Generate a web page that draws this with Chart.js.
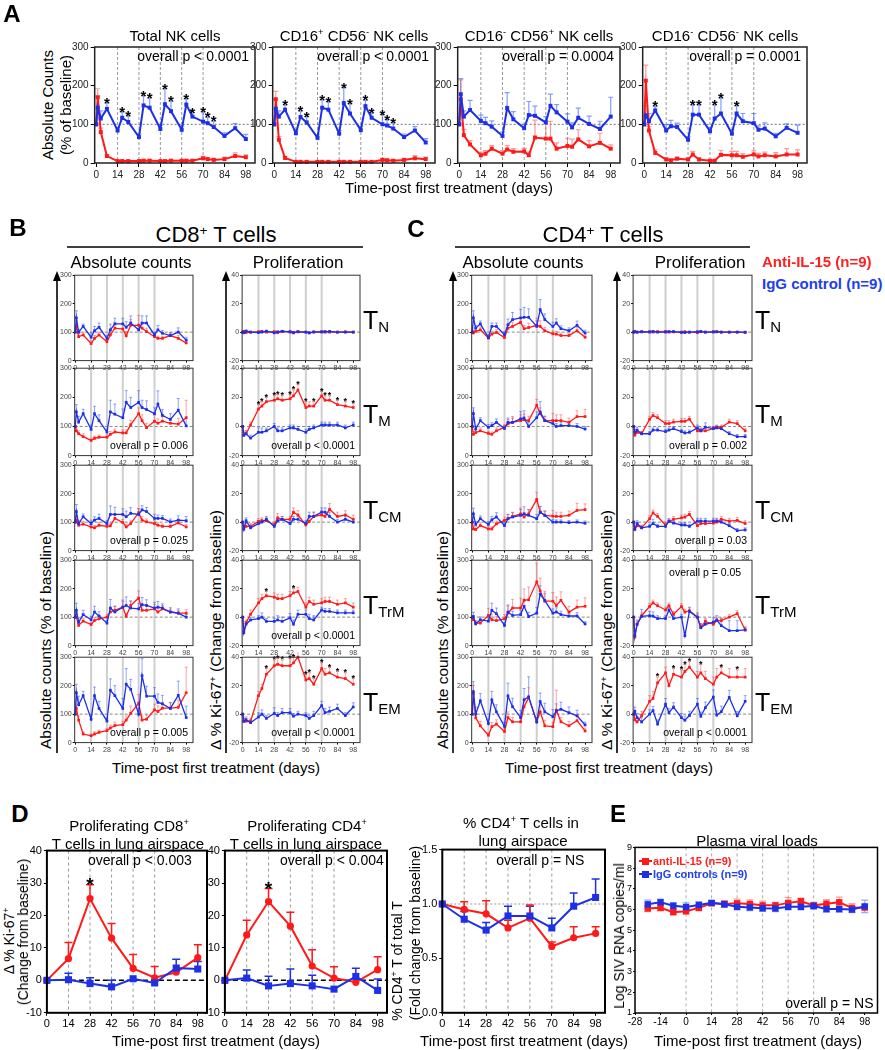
<!DOCTYPE html>
<html><head><meta charset="utf-8">
<script src="https://cdn.jsdelivr.net/npm/chart.js@4.4.1/dist/chart.umd.min.js"></script>
<style>
html,body{margin:0;padding:0;background:#fff;}
#root{position:relative;width:885px;height:1050px;overflow:hidden;background:#fff;font-family:'Liberation Sans',Arial,Helvetica,sans-serif;color:#000;}
.t{position:absolute;white-space:nowrap;line-height:1;transform:translate(-50%,-50%);}
.tl{position:absolute;white-space:nowrap;line-height:1;transform:translate(0,-50%);}
.sup{font-size:0.62em;vertical-align:0.55em;line-height:0;}
.sub{font-size:0.6em;vertical-align:-0.25em;line-height:0;}
svg{position:absolute;left:0;top:0;}
</style></head>
<body><div id="root"><svg id="lines" width="885" height="1050"></svg></div>
<script>
// ---------------- DATA ----------------
const NK_DAYS = [0,1,3,7,14,17,21,28,31,35,42,45,49,56,59,63,70,73,77,84,91,98];
const T_DAYS  = [0,1,3,7,14,17,21,28,31,35,42,45,49,56,59,63,70,73,77,84,91,98];
const D_DAYS  = [0,14,28,42,56,70,84,98];
const E_DAYS  = [-21,-14,-7,0,7,14,21,28,35,42,49,56,63,70,77,84,91,98];

const TICK_DAYS   = [0,14,28,42,56,70,84,98];
const E_TICK_DAYS = [-28,-14,0,14,28,42,56,70,84,98];
const TREAT_DAYS  = [14,28,42,56,70];
const E_TREAT_DAYS= [0,14,28,42,56,70];
const COUNT_TICKS = [0,100,200,300];
const KI67_TICKS  = [-20,0,20,40];
const D_KI67_TICKS= [-10,0,10,20,30,40];
const D_FOLD_TICKS= [0,0.5,1,1.5];
const E_LOG_TICKS = [1,2,3,4,5,6,7,8,9];

// Panel A (NK cells, % of baseline)
const A1_RED = [100,170,80,18,5,5,5,5,6,6,5,5,6,6,6,6,12,10,8,10,18,15];
const A1_RED_ERR = [0,22,10,4,2,2,2,2,3,3,2,2,3,3,3,3,5,4,4,5,8,6];
const A1_BLUE = [100,143,115,140,84,117,106,67,149,143,88,152,134,86,151,120,107,103,93,70,90,62];
const A1_BLUE_ERR = [0,30,20,15,8,15,15,8,25,25,10,40,25,10,15,10,25,15,15,8,12,12];
const A1_STARS = [3,5,6,8,9,11,12,14,15,16,17,18];

const A2_RED = [100,165,60,13,3,3,3,3,3,3,3,3,3,3,3,3,8,7,6,8,12,10];
const A2_RED_ERR = [0,20,8,4,2,2,2,2,2,2,2,2,2,2,2,2,4,3,3,4,7,5];
const A2_BLUE = [100,140,120,138,77,119,105,65,143,138,76,155,128,85,147,117,100,97,89,67,84,53];
const A2_BLUE_ERR = [0,25,15,12,8,15,15,8,20,20,8,40,25,10,15,12,25,15,15,8,10,10];
const A2_STARS = [3,5,6,8,9,11,12,14,15,16,17,18];

const A3_RED = [100,165,72,48,20,24,37,24,35,29,30,20,66,63,63,37,44,42,61,43,52,37];
const A3_RED_ERR = [0,50,15,10,8,8,8,8,10,8,8,8,45,45,45,15,20,20,25,15,25,10];
const A3_BLUE = [100,178,120,137,109,103,94,70,142,113,90,124,122,105,148,131,107,92,117,101,88,120];
const A3_BLUE_ERR = [0,40,15,25,15,15,15,10,40,20,10,35,25,15,30,20,20,12,25,20,20,50];

const A4_RED = [100,213,84,26,9,7,11,9,22,9,6,6,21,20,20,16,22,17,20,17,22,22];
const A4_RED_ERR = [0,40,10,8,4,3,4,4,8,4,3,3,12,10,10,8,10,8,8,10,15,12];
const A4_BLUE = [100,123,108,136,84,95,93,60,125,125,82,115,128,76,128,108,103,86,89,69,91,78];
const A4_BLUE_ERR = [0,25,20,10,15,15,10,8,25,25,10,35,40,10,20,20,25,10,15,8,10,20];
const A4_STARS = [3,8,9,11,12,14];

// Panel B (CD8+), absolute counts (AC) and proliferation (PR)
const B_TN_AC_RED = [100,120,84,90,60,78,90,66,90,114,111,87,124,124,114,102,84,78,78,88,78,62];
const B_TN_AC_RED_ERR = [0,20,10,10,10,10,10,8,15,20,15,15,20,35,15,12,10,8,8,8,10,8];
const B_TN_AC_BLUE = [100,150,100,120,82,105,117,78,108,129,129,117,132,108,132,132,90,108,96,88,100,72];
const B_TN_AC_BLUE_ERR = [0,25,10,8,15,15,15,10,20,20,20,20,25,20,25,25,10,15,10,10,15,10];
const B_TM_AC_RED = [100,85,75,65,52,59,63,63,73,81,78,78,106,144,120,96,118,111,118,111,108,130];
const B_TM_AC_RED_ERR = [0,15,10,10,8,8,8,8,10,10,10,10,15,20,20,15,20,15,15,15,20,60];
const B_TM_AC_BLUE = [100,150,115,144,90,144,120,81,150,142,130,183,165,183,165,158,144,177,138,124,156,102];
const B_TM_AC_BLUE_ERR = [0,25,20,15,15,25,20,10,40,35,30,40,35,40,25,30,20,45,20,20,40,30];
const B_TCM_AC_RED = [100,107,89,93,83,80,89,85,87,113,99,83,95,133,107,101,95,89,85,85,97,83];
const B_TCM_AC_RED_ERR = [0,15,10,10,8,8,10,8,10,15,10,10,10,15,12,10,10,8,8,8,10,8];
const B_TCM_AC_BLUE = [100,137,95,119,95,107,113,95,127,127,127,119,131,127,143,137,113,113,113,101,107,105];
const B_TCM_AC_BLUE_ERR = [0,25,10,10,12,12,15,10,30,25,20,20,20,20,15,15,15,12,10,10,15,15];
const B_TTRM_AC_RED = [100,100,71,86,74,88,94,100,118,124,135,103,141,167,124,124,129,118,129,118,114,114];
const B_TTRM_AC_RED_ERR = [0,15,8,10,8,10,10,10,15,15,20,10,15,25,15,15,15,12,12,10,10,12];
const B_TTRM_AC_BLUE = [100,124,82,109,91,118,104,79,132,118,135,141,132,129,144,141,132,135,132,118,114,100];
const B_TTRM_AC_BLUE_ERR = [0,25,15,15,12,20,15,10,30,20,25,30,25,20,25,20,20,20,15,15,15,10];
const B_TEM_AC_RED = [100,120,79,30,24,30,36,42,51,60,63,79,103,139,79,82,115,109,121,121,124,175];
const B_TEM_AC_RED_ERR = [0,30,15,8,6,8,8,8,10,12,12,15,25,30,15,15,20,20,20,20,25,90];
const B_TEM_AC_BLUE = [100,175,133,165,82,165,120,76,184,165,120,205,187,100,235,163,163,141,136,120,166,88];
const B_TEM_AC_BLUE_ERR = [0,30,30,15,15,30,25,10,40,35,35,55,35,20,60,35,30,30,30,20,50,40];

const B_TN_PR_RED = [0,0.5,-0.3,0,0.3,0.5,0,0.3,-0.4,0.6,0,-0.6,0.4,0,-0.5,0.2,0,0.5,0,0,0.2,0];
const B_TN_PR_RED_ERR = [0,0.6,0.4,0.4,0.4,0.5,0.4,0.4,0.5,0.6,0.4,0.5,0.5,0.4,0.5,0.4,0.4,0.5,0.4,0.4,0.4,0.4];
const B_TN_PR_BLUE = [0,-0.5,0.8,0,-0.3,0,0.7,-0.5,0.2,0.5,0.3,-0.2,0.2,0,-0.5,0,0.3,0,0.5,0,0,0];
const B_TN_PR_BLUE_ERR = [0,0.5,0.5,0.4,0.4,0.4,0.5,0.4,0.4,0.5,0.4,0.4,0.4,0.4,0.4,0.4,0.4,0.4,0.5,0.4,0.4,0.4];
const B_TM_PR_RED = [0,-6,-5,1,12,14,17,18,19,18,19,21,25,13,14,14,21,18,18,15,14,13];
const B_TM_PR_RED_ERR = [0,2,2,2,3,3,3,3,3,3,3,4,4,4,3,3,3,3,3,3,3,3];
const B_TM_PR_BLUE = [0,-6,-5,-8,-4,-4,-3,0,-3,-3,-1,-1,-2,-4,-2,-1,1,1,1,1,-1,1];
const B_TM_PR_BLUE_ERR = [0,2,2,2,3,3,2,2,2,2,2,2,2,2,2,2,2,2,2,2,2,2];
const B_TM_PR_STARS = [4,5,6,7,8,9,10,11,12,13,15,16,17,18,19,20,21];
const B_TCM_PR_RED = [0,-4,-3,-3,0.5,1,1,-2,3,2,2,7,5,-2,0.5,4,5,4,9,4,5,2];
const B_TCM_PR_RED_ERR = [0,2,2,2,2,2,2,2,3,2,2,3,3,2,2,3,3,3,4,3,3,3];
const B_TCM_PR_BLUE = [0,-5,1,-4,-1,0,2,-3,1,2,-1,2,2,-1,4,4,7,7,4,0,2,0];
const B_TCM_PR_BLUE_ERR = [0,2,2,2,2,2,2,2,2,2,2,2,2,2,3,3,3,3,3,2,2,2];
const B_TTRM_PR_RED = [0,-10,-4,2,10,13,15,14,13,13,15,17,18,7,11,9,10,11,11,9,10,7];
const B_TTRM_PR_RED_ERR = [0,2,2,3,3,3,3,3,3,3,3,3,3,3,3,3,3,3,3,3,3,3];
const B_TTRM_PR_BLUE = [0,-11,-5,-2,-1,0,-3,-3,-2,-3,-0.5,-5,2,2,-1,-2,5,4,4,3,3,3];
const B_TTRM_PR_BLUE_ERR = [0,2,2,2,2,3,2,2,3,3,3,3,3,3,3,3,2,2,2,2,2,2];
const B_TTRM_PR_STARS = [6,11];
const B_TEM_PR_RED = [0,-5,-5,-5,13,18,28,34,35,34,34,36,40,24,25,21,32,28,29,26,25,21];
const B_TEM_PR_RED_ERR = [0,2,2,2,3,3,4,4,4,4,5,4,4,4,4,4,4,4,4,4,4,4];
const B_TEM_PR_BLUE = [0,-5,-4,-6,-2,0,-3,0.5,-1,1,1,-1.5,0,-1,-3,-1,6,1,2,4,-1,5];
const B_TEM_PR_BLUE_ERR = [0,2,2,2,3,3,2,4,2,3,3,2,2,2,2,3,3,3,3,3,2,3];
const B_TEM_PR_STARS = [6,7,8,9,10,11,12,13,14,15,16,18,19,20,21];

// Panel C (CD4+)
const C_TN_AC_RED = [100,97,103,108,79,93,99,81,114,120,135,112,116,124,120,105,94,93,88,88,105,82];
const C_TN_AC_RED_ERR = [0,10,10,10,8,10,10,8,12,15,15,12,15,25,20,12,10,10,8,8,12,8];
const C_TN_AC_BLUE = [100,150,114,129,81,120,120,91,126,144,150,152,152,120,179,144,120,132,112,105,124,97];
const C_TN_AC_BLUE_ERR = [0,25,10,10,10,12,12,10,20,25,30,35,30,20,35,20,15,15,10,10,15,10];
const C_TM_AC_RED = [100,73,79,85,76,73,85,97,109,114,120,123,120,173,144,120,120,120,120,114,134,134];
const C_TM_AC_RED_ERR = [0,10,10,10,8,8,10,10,15,20,20,20,15,20,20,15,25,20,20,15,20,25];
const C_TM_AC_BLUE = [100,144,91,120,97,103,114,93,114,114,126,129,100,130,150,120,110,100,103,103,100,91];
const C_TM_AC_BLUE_ERR = [0,20,10,10,10,10,12,10,15,15,25,25,15,20,35,15,12,10,10,10,10,8];
const C_TCM_AC_RED = [100,76,74,88,76,76,94,106,112,120,129,118,129,180,135,124,121,120,120,124,141,144];
const C_TCM_AC_RED_ERR = [0,10,10,10,8,8,10,12,15,15,20,15,15,25,20,15,20,15,15,15,25,20];
const C_TCM_AC_BLUE = [100,129,92,112,92,108,118,88,112,118,124,129,124,112,135,124,100,100,100,98,100,96];
const C_TCM_AC_BLUE_ERR = [0,20,10,10,10,12,15,10,15,15,20,25,20,15,20,15,10,8,8,8,8,8];
const C_TTRM_AC_RED = [100,91,79,79,106,91,88,94,114,132,132,159,161,224,192,156,156,141,159,118,135,138];
const C_TTRM_AC_RED_ERR = [0,15,10,10,25,20,15,15,25,30,35,40,45,65,45,35,30,30,30,20,25,30];
const C_TTRM_AC_BLUE = [100,102,76,91,86,124,112,71,118,106,109,138,102,114,180,159,114,118,109,104,104,76];
const C_TTRM_AC_BLUE_ERR = [0,15,10,10,12,25,20,10,25,15,15,25,15,20,30,25,15,15,12,10,12,8];
const C_TEM_AC_RED = [100,171,87,59,26,56,65,39,88,73,73,126,158,73,108,59,56,114,73,59,77,41];
const C_TEM_AC_RED_ERR = [0,30,20,15,8,15,15,10,20,15,15,30,35,15,25,20,15,70,15,15,20,10];
const C_TEM_AC_BLUE = [100,179,100,147,67,150,108,57,164,126,88,150,161,73,144,108,91,111,117,105,94,62];
const C_TEM_AC_BLUE_ERR = [0,35,25,25,15,30,25,15,45,30,25,40,70,15,30,30,25,25,25,20,20,10];

const C_TN_PR_RED = [0,0.3,0,0.3,0.4,0,0.3,0.5,0,0.2,-0.3,0.3,0,-0.4,0.3,0,0.4,0.2,0,0,0,-0.3];
const C_TN_PR_RED_ERR = [0,0.4,0.3,0.4,0.4,0.3,0.4,0.4,0.3,0.4,0.3,0.4,0.3,0.3,0.4,0.3,0.4,0.4,0.3,0.3,0.3,0.3];
const C_TN_PR_BLUE = [0,0.4,0,0.2,0,0.5,0,0,0.4,0.3,0,-0.3,0,0.3,0.4,0,0,0.3,0,0,0,0];
const C_TN_PR_BLUE_ERR = [0,0.4,0.3,0.3,0.3,0.4,0.3,0.3,0.4,0.3,0.3,0.3,0.3,0.3,0.4,0.3,0.3,0.3,0.3,0.3,0.3,0.3];
const C_TM_PR_RED = [0,-6,-4,-5,5,7.5,6,2,2,3,3.5,3.5,5,-3,-3,-3,-1.5,-0.5,-0.5,3,2,-3];
const C_TM_PR_RED_ERR = [0,1.5,1.5,1.5,2,2,2,2,2,2,2,2,2,1.5,1.5,1.5,1.5,1.5,1.5,2,2,1.5];
const C_TM_PR_BLUE = [0,-4,-2.5,-5,-5,-2.5,-2.5,-3.5,-2.5,-1.5,-3.5,-4.5,-4,-1,-3,-0.5,-1.5,-1,-1.5,-5,-7,-7];
const C_TM_PR_BLUE_ERR = [0,2,2,1.5,1.5,1.5,1.5,1.5,1.5,1.5,1.5,1.5,1.5,2,2,3,1.5,1.5,1.5,1.5,1.5,1.5];
const C_TCM_PR_RED = [0,-5,-2.5,-4,2.5,6.5,4,-2,0.5,2,3,3.5,5.5,-2.5,-1,-1,-0.7,0,2,0.7,1.2,-1];
const C_TCM_PR_RED_ERR = [0,2,2,2,2,2,2,2,2,2,2,2,2,2,2,2,2,2,2,2,2,2];
const C_TCM_PR_BLUE = [0,-5,-1,-4,-3,-1,-3,-3,0.7,-0.7,-2,-2,-3,0.7,0.7,0.7,0.7,0.7,0,-2.5,-6,-5.5];
const C_TCM_PR_BLUE_ERR = [0,2,2,1.5,1.5,3,1.5,1.5,1.5,1.5,1.5,1.5,1.5,2,2,2,2,2,1.5,1.5,1.5,1.5];
const C_TTRM_PR_RED = [0,-14,-5,1,7.5,10,8,5,8,2,7.5,3.5,4.5,0,-7,-3,-5,-2.5,-2.5,0,2.5,-9];
const C_TTRM_PR_RED_ERR = [0,2,2,2,2,2,2,2,2,2,2,2,2,2,2,2,2,2,2,2,2,2];
const C_TTRM_PR_BLUE = [0,-13,-5,0.5,1,0.7,-1,-1,5,-1,0,-13,4,0,-7.5,-5,-3.5,-2,-6,-9.5,-9.5,-9];
const C_TTRM_PR_BLUE_ERR = [0,3,3,5,3,3,2,2,3,2,2,2,3,3,3,3,3,3,5,7,7,2];
const C_TEM_PR_RED = [0,-4,-5.5,-1,9,11,22,29,20,28,26,30,33,26,29,25,21,26,29,26,26,26];
const C_TEM_PR_RED_ERR = [0,3,3,3,4,5,4,4,4,4,5,5,4,4,6,5,5,6,4,6,5,6];
const C_TEM_PR_BLUE = [0,2,-2.5,-5.5,0,2.5,-7,7,1,5,-2.5,-4.3,-1,7,-1.5,4.5,12,-0.7,1.7,11.7,-1.2,9];
const C_TEM_PR_BLUE_ERR = [0,3,3,3,3,3,3,4,3,3,3,3,3,4,3,4,5,3,4,5,3,4];
const C_TEM_PR_STARS = [6,9,10,11,12,14,18,20];

// Panel D (lung airspace)
const D1_RED = [0,6.7,25.2,13,3.7,0.8,2.5,7];
const D1_RED_ERR = [0,5,4.3,4.5,4.3,3.5,0,4];
const D1_BLUE = [0,0.2,-1,-2,0.5,-0.8,3.8,3.5];
const D1_BLUE_ERR = [0,2,1.8,2,0,0,2.7,2.3];
const D1_STARS = [2];
const D2_RED = [0,14,24.3,16.7,4.4,0.7,-0.6,3.3];
const D2_RED_ERR = [0,4.5,4,4.3,5,3.5,0,4];
const D2_BLUE = [0,0.7,-1.7,-1,-1.7,-2.7,1.2,-3.1];
const D2_BLUE_ERR = [0,2.5,3,4.5,3.3,0,2.5,3.5];
const D2_STARS = [2];
const D3_RED = [1,0.95,0.91,0.78,0.87,0.61,0.69,0.73];
const D3_RED_ERR = [0,0.07,0.12,0.07,0.12,0.04,0.1,0.06];
const D3_BLUE = [1,0.86,0.76,0.89,0.89,0.78,0.98,1.06];
const D3_BLUE_ERR = [0,0.07,0.07,0.09,0.09,0.09,0.12,0.17];

// Panel E (plasma viral loads)
const E_RED = [6.05,6.08,5.87,5.92,6.08,6.3,6.27,6.3,6.27,6.2,6.2,6.32,6.4,6.2,6.28,6.35,6.08,6.1];
const E_RED_ERR = [0.15,0.15,0.12,0.15,0.15,0.1,0.15,0.2,0.2,0.2,0.15,0.25,0.15,0.15,0.2,0.25,0.2,0.15];
const E_BLUE = [6.25,6.35,6.18,6.12,6.22,6.32,6.25,6.13,6.1,6.06,6.05,6.13,6.13,6.17,6.02,6.02,6.0,6.15];
const E_BLUE_ERR = [0.2,0.15,0.15,0.2,0.15,0.1,0.15,0.15,0.15,0.15,0.15,0.15,0.15,0.15,0.15,0.15,0.15,0.3];

// ---------------- RENDERING ----------------
const FONT = "'Liberation Sans', Arial, Helvetica, sans-serif";
Chart.defaults.font.family = FONT;
Chart.defaults.color = '#000';
const RED = '#ff1a1a', BLUE = '#1e30e6';
const ERR_R = 'rgba(255,70,70,0.55)', ERR_B = 'rgba(50,90,255,0.6)';

function strokeLine(ctx, x1, y1, x2, y2, s) {
  ctx.save(); ctx.strokeStyle = s.c; ctx.lineWidth = s.w; ctx.setLineDash(s.d || []);
  ctx.beginPath(); ctx.moveTo(x1, y1); ctx.lineTo(x2, y2); ctx.stroke(); ctx.restore();
}

const deco = {
  id: 'deco',
  beforeDatasetsDraw(chart, args, o) {
    const { ctx, chartArea: a, scales: { x, y } } = chart;
    (o.vx || []).forEach(v => { const px = x.getPixelForValue(v); strokeLine(ctx, px, a.top, px, a.bottom, o.vs); });
    (o.hy || []).forEach(v => { const py = y.getPixelForValue(v); strokeLine(ctx, a.left, py, a.right, py, o.hs); });
    chart.data.datasets.forEach((ds, i) => {
      if (!ds.errUp) return;
      const meta = chart.getDatasetMeta(i);
      ctx.save(); ctx.strokeStyle = ds.errColor; ctx.lineWidth = o.ew; ctx.setLineDash([]);
      meta.data.forEach((pt, j) => {
        const v = ds.data[j].y, e = ds.errUp[j];
        if (!e) return;
        const y0 = y.getPixelForValue(v), y1 = y.getPixelForValue(v + e);
        ctx.beginPath();
        ctx.moveTo(pt.x, y0); ctx.lineTo(pt.x, y1);
        ctx.moveTo(pt.x - o.cap, y1); ctx.lineTo(pt.x + o.cap, y1);
        if (ds.errSym) {
          const y2 = y.getPixelForValue(v - e);
          ctx.moveTo(pt.x, y0); ctx.lineTo(pt.x, y2);
          ctx.moveTo(pt.x - o.cap, y2); ctx.lineTo(pt.x + o.cap, y2);
        }
        ctx.stroke();
      });
      ctx.restore();
    });
  },
  afterDatasetsDraw(chart, args, o) {
    const { ctx, scales: { y } } = chart;
    chart.data.datasets.forEach((ds, i) => {
      if (!ds.stars) return;
      const meta = chart.getDatasetMeta(i);
      const sz = o.starSize;
      ctx.save(); ctx.fillStyle = '#000'; ctx.font = 'bold ' + sz + 'px ' + FONT;
      ctx.textAlign = 'center'; ctx.textBaseline = 'alphabetic';
      ds.stars.forEach(j => {
        const v = ds.data[j].y + (ds.errUp ? ds.errUp[j] : 0);
        const py = y.getPixelForValue(v);
        ctx.fillText('*', meta.data[j].x, py - 1.5 + sz * 0.43);
      });
      ctx.restore();
    });
  },
  afterDraw(chart, args, o) {
    const { ctx, chartArea: a } = chart;
    ctx.save(); ctx.strokeStyle = o.fc; ctx.lineWidth = o.fw; ctx.setLineDash([]);
    ctx.strokeRect(a.left, a.top, a.right - a.left, a.bottom - a.top);
    ctx.restore();
    if (o.ptext) {
      const p = o.ptext;
      ctx.save(); ctx.fillStyle = '#000'; ctx.font = p.size + 'px ' + FONT;
      ctx.textAlign = p.align; ctx.textBaseline = 'middle';
      const px = p.ax === 'r' ? a.right + p.dx : a.left + p.dx;
      const py = p.ay === 't' ? a.top + p.dy : a.bottom + p.dy;
      ctx.fillText(p.t, px, py);
      ctx.restore();
    }
  }
};
Chart.register(deco);

const SA = {lw:2, pr:2.8, ew:1.2, cap:2.5, tf:10, tl:4, tp:2, fw:1.5, fc:'#222', star:15, tc:'#222'};
const SS = {lw:1.3, pr:1.9, ew:0.9, cap:1.5, tf:7, tl:2, tp:1, fw:1, fc:'#333', star:9, tc:'#444'};
const SD = {lw:2, pr:4, ew:1.5, cap:4, tf:11, tl:3, tp:2, fw:2, fc:'#000', star:19, tc:'#000'};
const SE = {lw:2, pr:4.5, ew:1.2, cap:3.5, tf:9, tfx:10, tl:2, tp:1, fw:1.5, fc:'#000', star:0, tc:'#000'};

function S(days, vals, errs, color, errColor, extra) { return Object.assign({days, vals, errs, color, errColor}, extra || {}); }

function build(o) {
  return () => ({
    type: 'line',
    data: { datasets: o.series.map(s => ({
      data: s.days.map((d, i) => ({x: d, y: s.vals[i]})),
      borderColor: s.color, backgroundColor: s.color,
      pointBackgroundColor: s.color, pointBorderColor: s.color, pointBorderWidth: 0,
      borderWidth: o.st.lw, pointRadius: s.pr != null ? s.pr : o.st.pr, pointStyle: s.ps || 'rect',
      errUp: s.errs, errSym: !!s.sym, errColor: s.errColor, stars: s.stars || null,
      clip: false, tension: 0, fill: false
    })) },
    options: {
      responsive: false, maintainAspectRatio: false, animation: false, events: [],
      layout: { padding: 2 },
      plugins: {
        legend: { display: false }, tooltip: { enabled: false },
        deco: { vx: o.vx, vs: o.vs, hy: o.hy, hs: o.hs, ew: o.st.ew, cap: o.st.cap,
                fw: o.st.fw, fc: o.st.fc, starSize: o.st.star, ptext: o.ptext || null }
      },
      scales: {
        x: { type: 'linear', min: o.xmin, max: o.xmax,
             afterBuildTicks: s => { s.ticks = o.xticks.map(v => ({value: v})); },
             ticks: { font: {size: o.st.tfx || o.st.tf}, color: o.st.tc, padding: o.st.tp,
                      maxRotation: 0, minRotation: 0, autoSkip: false, callback: v => String(v) },
             grid: { display: true, drawOnChartArea: false, drawTicks: true, tickLength: o.st.tl, tickColor: '#000', tickWidth: 1 },
             border: { display: false } },
        y: { type: 'linear', min: o.ymin, max: o.ymax,
             afterBuildTicks: s => { s.ticks = o.yticks.map(v => ({value: v})); },
             ticks: { font: {size: o.st.tf}, color: o.st.tc, padding: o.st.tp, autoSkip: false,
                      callback: o.yfmt || (v => String(v)) },
             grid: { display: true, drawOnChartArea: false, drawTicks: true, tickLength: o.st.tl, tickColor: '#000', tickWidth: 1 },
             border: { display: false } }
      }
    }
  });
}

const root = document.getElementById('root');
function setSize(cv, W, H) { cv.width = W; cv.height = H; cv.style.width = W + 'px'; cv.style.height = H + 'px'; }
function place(rect, factory) {
  const [l, t, r, b] = rect, w = r - l, h = b - t;
  const wrap = document.createElement('div'); wrap.style.position = 'absolute';
  root.appendChild(wrap);
  let cv = document.createElement('canvas'); wrap.appendChild(cv);
  let W = w + 100, H = h + 60; setSize(cv, W, H);
  let ch = new Chart(cv, factory());
  const a = ch.chartArea;
  const L = a.left, Tp = a.top, R = W - a.right, B = H - a.bottom;
  ch.destroy(); wrap.removeChild(cv);
  cv = document.createElement('canvas'); wrap.appendChild(cv);
  W = Math.round(w + L + R); H = Math.round(h + Tp + B); setSize(cv, W, H);
  ch = new Chart(cv, factory());
  const a2 = ch.chartArea;
  wrap.style.left = (l - a2.left) + 'px'; wrap.style.top = (t - a2.top) + 'px';
}

function T(html, x, y, size, opt) {
  opt = opt || {};
  const d = document.createElement('div');
  d.className = opt.left ? 'tl' : 't';
  d.innerHTML = html; d.style.left = x + 'px'; d.style.top = y + 'px'; d.style.fontSize = size + 'px';
  if (opt.rot) d.style.transform = 'translate(-50%,-50%) rotate(-90deg)';
  if (opt.bold) d.style.fontWeight = 'bold';
  if (opt.color) d.style.color = opt.color;
  root.appendChild(d);
}
const sup = s => '<span class="sup">' + s + '</span>';
const sub = s => '<span class="sub">' + s + '</span>';

// ---- decorative lines (arrows, underlines, E legend markers)
(function(){
  let s = '';
  const ln = (x1,y1,x2,y2,w,c) => s += `<line x1="${x1}" y1="${y1}" x2="${x2}" y2="${y2}" stroke="${c||'#000'}" stroke-width="${w}"/>`;
  const arrow = x => { ln(x, 279, x, 753, 1.6); s += `<polygon points="${x},271 ${x-4},281 ${x+4},281" fill="#000"/>`; };
  ln(67, 247, 363, 247, 1.5); ln(455, 247, 750, 247, 1.5);
  arrow(57); arrow(226); arrow(453); arrow(617);
  ln(639, 861, 652, 861, 2, RED); s += `<rect x="642" y="858" width="7" height="7" fill="${RED}"/>`;
  ln(639, 874, 652, 874, 2, BLUE); s += `<rect x="642" y="871" width="7" height="7" fill="${BLUE}"/>`;
  document.getElementById('lines').innerHTML = s;
})();

// ---- Panel A
const A_VS = {c:'#999', w:1, d:[3,2]}, A_HS = {c:'#777', w:1, d:[2,2]};
const A_DEF = [
  {r:[95,47,255,163], red:A1_RED, re:A1_RED_ERR, blue:A1_BLUE, be:A1_BLUE_ERR, st:A1_STARS, p:'overall p < 0.0001', title:'Total NK cells'},
  {r:[273,47,435,163], red:A2_RED, re:A2_RED_ERR, blue:A2_BLUE, be:A2_BLUE_ERR, st:A2_STARS, p:'overall p < 0.0001', title:'CD16'+sup('+')+' CD56'+sup('-')+' NK cells'},
  {r:[458,47,620,163], red:A3_RED, re:A3_RED_ERR, blue:A3_BLUE, be:A3_BLUE_ERR, st:null, p:'overall p = 0.0004', title:'CD16'+sup('-')+' CD56'+sup('+')+' NK cells'},
  {r:[643,47,807,163], red:A4_RED, re:A4_RED_ERR, blue:A4_BLUE, be:A4_BLUE_ERR, st:A4_STARS, p:'overall p = 0.0001', title:'CD16'+sup('-')+' CD56'+sup('-')+' NK cells'}
];
A_DEF.forEach(c => {
  place(c.r, build({st:SA, xmin:-1, xmax:104, xticks:TICK_DAYS, ymin:0, ymax:300, yticks:COUNT_TICKS,
    series:[S(NK_DAYS, c.blue, c.be, BLUE, ERR_B, {stars:c.st}), S(NK_DAYS, c.red, c.re, RED, ERR_R)],
    vx:TREAT_DAYS, vs:A_VS, hy:[100], hs:A_HS,
    ptext:{t:c.p, ax:'r', dx:-6, ay:'t', dy:10, size:14, align:'right'}}));
  T(c.title, (c.r[0]+c.r[2])/2, 35, 15);
});
T('<b>A</b>', 12, 14, 24);
T('Absolute Counts', 47, 105, 15, {rot:true});
T('(% of baseline)', 65, 105, 15, {rot:true});
T('Time-post first treatment (days)', 449, 187, 15);

// ---- Panels B & C
const ROWS = [[275,360],[368,455],[465,550],[560,645],[657,742]];
const S_VS = {c:'#cfcfcf', w:2, d:[]}, S_HS = {c:'#888', w:1, d:[3,2]};
const BR = (t, dx, dy, ay) => ({t, ax: ay ? 'l' : 'r', dx: dx, ay: ay || 'b', dy: dy, size: 10.5, align: ay ? 'center' : 'right'});
const SMALL = [
  // B absolute counts
  {x:[75,193], row:0, kind:'ac', d:[B_TN_AC_RED,B_TN_AC_RED_ERR,B_TN_AC_BLUE,B_TN_AC_BLUE_ERR]},
  {x:[75,193], row:1, kind:'ac', d:[B_TM_AC_RED,B_TM_AC_RED_ERR,B_TM_AC_BLUE,B_TM_AC_BLUE_ERR], p:'overall p = 0.006'},
  {x:[75,193], row:2, kind:'ac', d:[B_TCM_AC_RED,B_TCM_AC_RED_ERR,B_TCM_AC_BLUE,B_TCM_AC_BLUE_ERR], p:'overall p = 0.025'},
  {x:[75,193], row:3, kind:'ac', d:[B_TTRM_AC_RED,B_TTRM_AC_RED_ERR,B_TTRM_AC_BLUE,B_TTRM_AC_BLUE_ERR]},
  {x:[75,193], row:4, kind:'ac', d:[B_TEM_AC_RED,B_TEM_AC_RED_ERR,B_TEM_AC_BLUE,B_TEM_AC_BLUE_ERR], p:'overall p = 0.005'},
  // B proliferation
  {x:[242,360], row:0, kind:'pr', d:[B_TN_PR_RED,B_TN_PR_RED_ERR,B_TN_PR_BLUE,B_TN_PR_BLUE_ERR]},
  {x:[242,360], row:1, kind:'pr', d:[B_TM_PR_RED,B_TM_PR_RED_ERR,B_TM_PR_BLUE,B_TM_PR_BLUE_ERR], p:'overall p < 0.0001', stars:B_TM_PR_STARS},
  {x:[242,360], row:2, kind:'pr', d:[B_TCM_PR_RED,B_TCM_PR_RED_ERR,B_TCM_PR_BLUE,B_TCM_PR_BLUE_ERR]},
  {x:[242,360], row:3, kind:'pr', d:[B_TTRM_PR_RED,B_TTRM_PR_RED_ERR,B_TTRM_PR_BLUE,B_TTRM_PR_BLUE_ERR], p:'overall p < 0.0001', stars:B_TTRM_PR_STARS},
  {x:[242,360], row:4, kind:'pr', d:[B_TEM_PR_RED,B_TEM_PR_RED_ERR,B_TEM_PR_BLUE,B_TEM_PR_BLUE_ERR], p:'overall p < 0.0001', stars:B_TEM_PR_STARS},
  // C absolute counts
  {x:[472,592], row:0, kind:'ac', d:[C_TN_AC_RED,C_TN_AC_RED_ERR,C_TN_AC_BLUE,C_TN_AC_BLUE_ERR]},
  {x:[472,592], row:1, kind:'ac', d:[C_TM_AC_RED,C_TM_AC_RED_ERR,C_TM_AC_BLUE,C_TM_AC_BLUE_ERR]},
  {x:[472,592], row:2, kind:'ac', d:[C_TCM_AC_RED,C_TCM_AC_RED_ERR,C_TCM_AC_BLUE,C_TCM_AC_BLUE_ERR]},
  {x:[472,592], row:3, kind:'ac', d:[C_TTRM_AC_RED,C_TTRM_AC_RED_ERR,C_TTRM_AC_BLUE,C_TTRM_AC_BLUE_ERR]},
  {x:[472,592], row:4, kind:'ac', d:[C_TEM_AC_RED,C_TEM_AC_RED_ERR,C_TEM_AC_BLUE,C_TEM_AC_BLUE_ERR]},
  // C proliferation
  {x:[633,752], row:0, kind:'pr', d:[C_TN_PR_RED,C_TN_PR_RED_ERR,C_TN_PR_BLUE,C_TN_PR_BLUE_ERR]},
  {x:[633,752], row:1, kind:'pr', d:[C_TM_PR_RED,C_TM_PR_RED_ERR,C_TM_PR_BLUE,C_TM_PR_BLUE_ERR], p:'overall p = 0.002'},
  {x:[633,752], row:2, kind:'pr', d:[C_TCM_PR_RED,C_TCM_PR_RED_ERR,C_TCM_PR_BLUE,C_TCM_PR_BLUE_ERR], p:'overall p = 0.03'},
  {x:[633,752], row:3, kind:'pr', d:[C_TTRM_PR_RED,C_TTRM_PR_RED_ERR,C_TTRM_PR_BLUE,C_TTRM_PR_BLUE_ERR], pTop:'overall p = 0.05'},
  {x:[633,752], row:4, kind:'pr', d:[C_TEM_PR_RED,C_TEM_PR_RED_ERR,C_TEM_PR_BLUE,C_TEM_PR_BLUE_ERR], p:'overall p < 0.0001', stars:C_TEM_PR_STARS}
];
SMALL.forEach(c => {
  const ac = c.kind === 'ac';
  const [rt, rb] = ROWS[c.row];
  let pt = null;
  if (c.p) pt = BR(c.p, -5, -9);
  if (c.pTop) pt = BR(c.pTop, 72, 13, 't');
  place([c.x[0], rt, c.x[1], rb], build({st:SS, xmin:-0.5, xmax:104, xticks:TICK_DAYS,
    ymin: ac ? 0 : -20, ymax: ac ? 300 : 40, yticks: ac ? COUNT_TICKS : KI67_TICKS,
    series:[S(T_DAYS, c.d[2], c.d[3], BLUE, ERR_B), S(T_DAYS, c.d[0], c.d[1], RED, ERR_R, {stars:c.stars})],
    vx:TREAT_DAYS, vs:S_VS, hy:[ac ? 100 : 0], hs:S_HS, ptext:pt}));
});
const ROW_LABELS = ['N','M','CM','TrM','EM'];
ROW_LABELS.forEach((lab, i) => {
  const cy = (ROWS[i][0] + ROWS[i][1]) / 2 + 2;
  T('T' + sub(lab), 363, cy, 25, {left:true});
  T('T' + sub(lab), 755, cy, 25, {left:true});
});
T('<b>B</b>', 18, 228, 24);
T('CD8' + sup('+') + ' T cells', 216, 235, 22);
T('Absolute counts', 131, 262, 17);
T('Proliferation', 298, 262, 17);
T('<b>C</b>', 416, 229, 24);
T('CD4' + sup('+') + ' T cells', 603, 235, 22);
T('Absolute counts', 523, 262, 17);
T('Proliferation', 700, 262, 17);
T('Anti-IL-15 (n=9)', 762, 261, 15, {left:true, bold:true, color:'#ff2020'});
T('IgG control (n=9)', 762, 283, 15, {left:true, bold:true, color:'#2040ee'});
T('Absolute counts (% of baseline)', 46, 640, 15.5, {rot:true});
T('&Delta; % Ki-67' + sup('+') + ' (Change from baseline)', 216, 630, 15.5, {rot:true});
T('Absolute counts (% of baseline)', 443, 640, 15.5, {rot:true});
T('&Delta; % Ki-67' + sup('+') + ' (Change from baseline)', 607, 630, 15.5, {rot:true});
T('Time-post first treatment (days)', 216, 767, 15);
T('Time-post first treatment (days)', 609, 767, 15);

// ---- Panel D
const D_VS = {c:'#999', w:1, d:[3,3]};
place([47,851,207,1013], build({st:SD, xmin:0, xmax:104, xticks:TICK_DAYS, ymin:-10, ymax:40, yticks:D_KI67_TICKS,
  series:[S(D_DAYS, D1_BLUE, D1_BLUE_ERR, BLUE, BLUE, {pr:5}), S(D_DAYS, D1_RED, D1_RED_ERR, RED, RED, {ps:'circle', pr:3.6, stars:D1_STARS})],
  vx:TREAT_DAYS, vs:D_VS, hy:[0], hs:{c:'#000', w:1.5, d:[5,3]},
  ptext:{t:'overall p < 0.003', ax:'l', dx:93, ay:'t', dy:11, size:14, align:'center'}}));
place([225,851,387,1013], build({st:SD, xmin:0, xmax:104, xticks:TICK_DAYS, ymin:-10, ymax:40, yticks:D_KI67_TICKS,
  series:[S(D_DAYS, D2_BLUE, D2_BLUE_ERR, BLUE, BLUE, {pr:5}), S(D_DAYS, D2_RED, D2_RED_ERR, RED, RED, {ps:'circle', pr:3.6, stars:D2_STARS})],
  vx:TREAT_DAYS, vs:D_VS, hy:[0], hs:{c:'#000', w:1.5, d:[5,3]},
  ptext:{t:'overall p < 0.004', ax:'l', dx:107, ay:'t', dy:11, size:14, align:'center'}}));
place([442,850,605,1013], build({st:SD, xmin:0, xmax:104, xticks:TICK_DAYS, ymin:0, ymax:1.5, yticks:D_FOLD_TICKS, yfmt: v => Number(v).toFixed(1),
  series:[S(D_DAYS, D3_BLUE, D3_BLUE_ERR, BLUE, BLUE, {pr:5}), S(D_DAYS, D3_RED, D3_RED_ERR, RED, RED, {ps:'circle', pr:3.6})],
  vx:TREAT_DAYS, vs:D_VS, hy:[1], hs:{c:'#999', w:1, d:[2,2]},
  ptext:{t:'overall p = NS', ax:'l', dx:98, ay:'t', dy:12, size:14, align:'center'}}));
T('<b>D</b>', 20, 814, 24);
T('Proliferating CD8' + sup('+'), 129, 825, 15);
T('T cells in lung airspace', 128, 843, 15);
T('Proliferating CD4' + sup('+'), 307, 825, 15);
T('T cells in lung airspace', 306, 843, 15);
T('% CD4' + sup('+') + ' T cells in', 521, 822, 15);
T('lung airspace', 523, 840, 15);
T('&Delta; % Ki-67' + sup('+'), 9, 941, 14, {rot:true});
T('(Change from baseline)', 23, 932, 14, {rot:true});
T('% CD4' + sup('+') + ' T of total T', 397, 961, 14, {rot:true});
T('(Fold change from baseline)', 415, 933, 14, {rot:true});
T('Time-post first treatment (days)', 216, 1040, 15);
T('Time-post first treatment (days)', 524, 1040, 15);

// ---- Panel E
place([635,847,877,1013], build({st:SE, xmin:-28, xmax:105, xticks:E_TICK_DAYS, ymin:1, ymax:9, yticks:E_LOG_TICKS,
  series:[S(E_DAYS, E_BLUE, E_BLUE_ERR, BLUE, 'rgba(60,100,255,0.55)', {sym:true}), S(E_DAYS, E_RED, E_RED_ERR, RED, 'rgba(255,80,80,0.55)', {sym:true})],
  vx:E_TREAT_DAYS, vs:{c:'#aaa', w:1, d:[3,3]}, hy:[], hs:{c:'#000', w:1, d:[]},
  ptext:{t:'overall p = NS', ax:'r', dx:-4, ay:'b', dy:-9, size:14, align:'right'}}));
T('<b>E</b>', 618, 814, 24);
T('Plasma viral loads', 757, 840, 15);
T('anti-IL-15 (n=9)', 653, 861, 11, {left:true, bold:true, color:'#ff2020'});
T('IgG controls (n=9)', 653, 874, 11, {left:true, bold:true, color:'#2040ee'});
T('Log SIV RNA copies/ml', 619, 936, 14, {rot:true});
T('Time-post first treatment (days)', 758, 1040, 15);
</script>
</body></html>
